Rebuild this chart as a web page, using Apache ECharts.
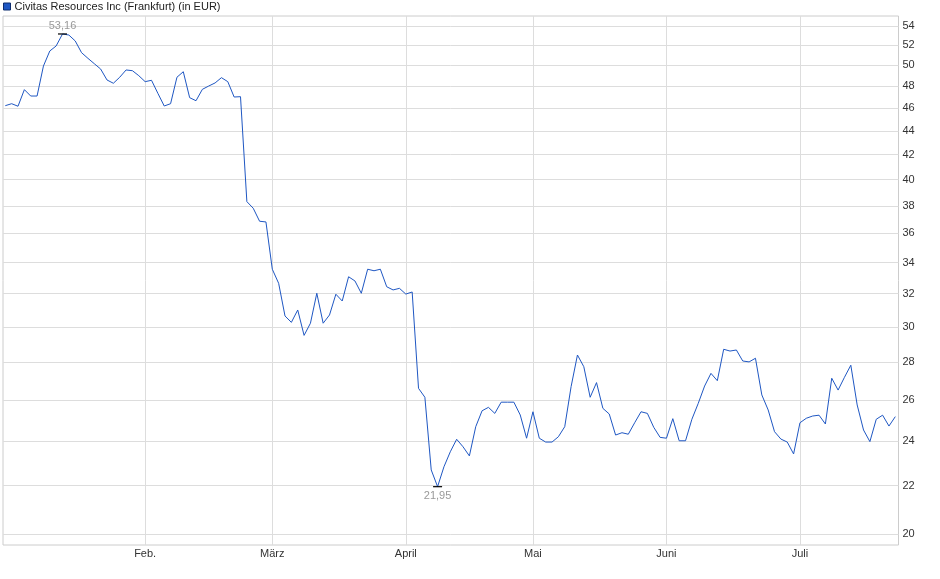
<!DOCTYPE html>
<html>
<head>
<meta charset="utf-8">
<script src="https://cdn.jsdelivr.net/npm/echarts@6/dist/echarts.min.js"></script>
<style>
html,body{margin:0;padding:0;background:#fff;}
#chart{width:940px;height:579px;}
</style>
</head>
<body>
<div id="chart"></div>
<script>
const seriesName = 'Civitas Resources Inc (Frankfurt) (in EUR)';

const dates = [
 '02.01.2025','03.01.2025','06.01.2025','07.01.2025','08.01.2025','09.01.2025','10.01.2025','13.01.2025','14.01.2025','15.01.2025','16.01.2025','17.01.2025','20.01.2025','21.01.2025','22.01.2025','23.01.2025','24.01.2025','27.01.2025','28.01.2025','29.01.2025','30.01.2025','31.01.2025',
 '03.02.2025','04.02.2025','05.02.2025','06.02.2025','07.02.2025','10.02.2025','11.02.2025','12.02.2025','13.02.2025','14.02.2025','17.02.2025','18.02.2025','19.02.2025','20.02.2025','21.02.2025','24.02.2025','25.02.2025','26.02.2025','27.02.2025','28.02.2025',
 '03.03.2025','04.03.2025','05.03.2025','06.03.2025','07.03.2025','10.03.2025','11.03.2025','12.03.2025','13.03.2025','14.03.2025','17.03.2025','18.03.2025','19.03.2025','20.03.2025','21.03.2025','24.03.2025','25.03.2025','26.03.2025','27.03.2025','28.03.2025','31.03.2025',
 '01.04.2025','02.04.2025','03.04.2025','04.04.2025','07.04.2025','08.04.2025','09.04.2025','10.04.2025','11.04.2025','14.04.2025','15.04.2025','16.04.2025','17.04.2025','22.04.2025','23.04.2025','24.04.2025','25.04.2025','28.04.2025','29.04.2025','30.04.2025',
 '02.05.2025','05.05.2025','06.05.2025','07.05.2025','08.05.2025','09.05.2025','12.05.2025','13.05.2025','14.05.2025','15.05.2025','16.05.2025','19.05.2025','20.05.2025','21.05.2025','22.05.2025','23.05.2025','26.05.2025','27.05.2025','28.05.2025','29.05.2025','30.05.2025',
 '02.06.2025','03.06.2025','04.06.2025','05.06.2025','06.06.2025','09.06.2025','10.06.2025','11.06.2025','12.06.2025','13.06.2025','16.06.2025','17.06.2025','18.06.2025','19.06.2025','20.06.2025','23.06.2025','24.06.2025','25.06.2025','26.06.2025','27.06.2025','30.06.2025',
 '01.07.2025','02.07.2025','03.07.2025','04.07.2025','07.07.2025','08.07.2025','09.07.2025','10.07.2025','11.07.2025','14.07.2025','15.07.2025','16.07.2025','17.07.2025','18.07.2025','21.07.2025','22.07.2025'
];

const prices = [
 46.21,46.39,46.16,47.68,47.09,47.09,49.93,51.42,51.93,53.16,53.05,52.44,51.25,50.69,50.16,49.64,48.59,48.28,48.85,49.55,49.48,49.00,
 48.43,48.56,47.34,46.18,46.39,48.85,49.38,46.94,46.66,47.71,48.02,48.31,48.81,48.43,47.00,47.03,38.31,37.82,36.87,36.82,
 33.57,32.66,30.64,30.26,31.00,29.50,30.21,32.03,30.21,30.70,31.97,31.55,33.08,32.81,32.03,33.57,33.47,33.57,32.44,32.24,32.34,
 31.98,32.11,26.60,26.14,22.68,21.95,22.82,23.50,24.08,23.73,23.31,24.68,25.46,25.63,25.33,25.89,25.89,25.89,25.25,24.13,
 25.41,24.13,23.95,23.95,24.20,24.68,26.69,28.39,27.75,26.14,26.90,25.58,25.30,24.28,24.39,24.32,24.87,25.41,25.33,24.65,24.17,
 24.13,25.07,24.01,24.01,25.04,25.83,26.72,27.39,27.00,28.71,28.61,28.67,28.06,28.01,28.21,26.26,25.50,24.44,24.09,23.95,23.40,
 24.87,25.09,25.20,25.24,24.81,27.13,26.51,27.18,27.83,25.75,24.52,23.97,25.04,25.24,24.71,25.17
];

const monthNames = ['Jan.','Feb.','März','April','Mai','Juni','Juli','Aug.','Sep.','Okt.','Nov.','Dez.'];
const yTicks = [20,22,24,26,28,30,32,34,36,38,40,42,44,46,48,50,52,54];

const monthOf = d => parseInt(d.slice(3,5),10);
const monthStarts = [];
dates.forEach((d,i)=>{ if(i>0 && monthOf(d)!==monthOf(dates[i-1])) monthStarts.push(i); });
const seriesData = prices.map((v,i)=>[i,v]);

const fmt = v => v.toFixed(2).replace('.',',');
const FONT = 'Liberation Sans, Arial, sans-serif';

const chart = echarts.init(document.getElementById('chart'), null, {renderer:'canvas'});
chart.setOption({
  animation:false,
  backgroundColor:'#ffffff',
  legend:{
    left:3, top:1, padding:0, itemGap:10,
    itemWidth:7, itemHeight:7,
    data:[{name:seriesName, icon:'rect'}],
    itemStyle:{color:'#1f57c3', borderColor:'#0d2c6e', borderWidth:1},
    textStyle:{fontFamily:FONT, fontSize:11, color:'#222', padding:[0,0,0,-1]},
    selectedMode:false
  },
  grid:{left:3, top:16, width:895.5, height:529, show:true, borderColor:'#cccccc', borderWidth:1, containLabel:false},
  xAxis:{
    type:'value', min:-0.36, max:140.5,
    axisLine:{show:false},
    axisTick:{show:false, customValues:monthStarts},
    axisLabel:{customValues:monthStarts, margin:3, fontFamily:FONT, fontSize:11, color:'#333',
      formatter:v=>monthNames[monthOf(dates[Math.round(v)])-1]},
    splitLine:{show:true, lineStyle:{color:'#dddddd', width:1}}
  },
  yAxis:{
    type:'log', position:'right', min:19.586, max:55.06,
    axisLine:{show:false},
    axisTick:{show:false, customValues:yTicks},
    axisLabel:{customValues:yTicks, margin:4, fontFamily:FONT, fontSize:11, color:'#333',
      formatter:v=>String(Math.round(v))},
    splitLine:{show:true, lineStyle:{color:'#dddddd', width:1}}
  },
  series:[{
    name:seriesName, type:'line', data:seriesData,
    showSymbol:false, symbol:'none',
    lineStyle:{color:'#1f57c3', width:1},
    itemStyle:{color:'#1f57c3'},
    markPoint:{
      symbol:'rect', symbolSize:[9,1.2],
      itemStyle:{color:'#000'},
      silent:true,
      data:[
        {type:'max', valueDim:'y', label:{position:'top', distance:2}},
        {type:'min', valueDim:'y', label:{position:'bottom', distance:3}}
      ],
      label:{show:true, color:'#9a9a9a', fontFamily:FONT, fontSize:11,
        formatter:p=>fmt(Array.isArray(p.value)?p.value[1]:p.value)}
    }
  }]
});
</script>
</body>
</html>
